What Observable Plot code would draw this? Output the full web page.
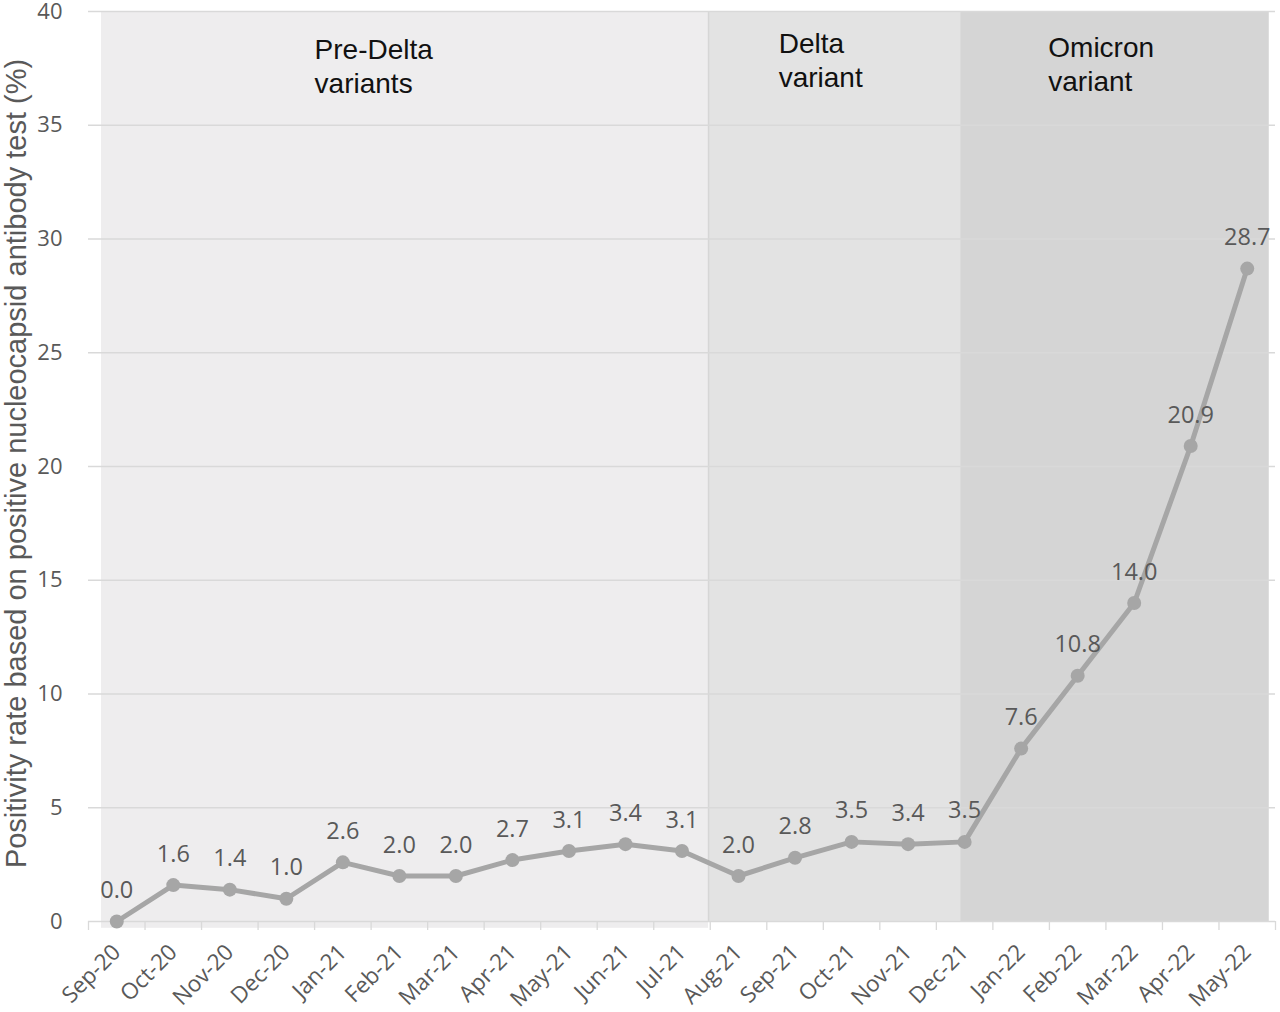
<!DOCTYPE html>
<html>
<head>
<meta charset="utf-8">
<script src="https://cdn.jsdelivr.net/npm/d3@7"></script>
<script src="https://cdn.jsdelivr.net/npm/@observablehq/plot@0.6"></script>
<style>
  html, body { margin: 0; padding: 0; background: #ffffff; }
  #chart { width: 1280px; height: 1012px; }
</style>
</head>
<body>
<div id="chart"></div>
<script>
// ---- data ----
const months = ["Sep-20","Oct-20","Nov-20","Dec-20","Jan-21","Feb-21","Mar-21","Apr-21","May-21","Jun-21","Jul-21",
                "Aug-21","Sep-21","Oct-21","Nov-21","Dec-21","Jan-22","Feb-22","Mar-22","Apr-22","May-22"];
const positivity = [0.0,1.6,1.4,1.0,2.6,2.0,2.0,2.7,3.1,3.4,3.1,2.0,2.8,3.5,3.4,3.5,7.6,10.8,14.0,20.9,28.7];
const yTicks = [0,5,10,15,20,25,30,35,40];
const yTitle = "Positivity rate based on positive nucleocapsid antibody test (%)";

// variant periods, in month-index units
const variantNames = ["Pre-Delta\nvariants","Delta\nvariant","Omicron\nvariant"];
const variantStart = [-0.27, 10.47, 14.93];
const variantEnd = [10.47, 14.93, 20.39];
const variantBottom = [-0.3, 0, 0];
const variantFill = ["#eeedee","#e3e3e3","#d5d5d5"];
const variantLabelX = [3.50, 11.71, 16.48];
const variantLabelY = [39.0, 39.25, 39.08];

// ---- tables ----
const points = months.map((m, i) => ({i, month: m, value: positivity[i]}));
const variants = variantNames.map((name, k) => ({
  name, x1: variantStart[k], x2: variantEnd[k], y1: variantBottom[k], fill: variantFill[k],
  lx: variantLabelX[k], ly: variantLabelY[k]
}));
const monthIdx = d3.range(months.length);
const boundaries = d3.range(months.length + 1).map(k => k - 0.5);

const grey = "#595959";
const calib = "'Open Sans', Lato, sans-serif";
const arial = "'Liberation Sans', Arial, sans-serif";

const chart = Plot.plot({
  width: 1280,
  height: 1012,
  marginLeft: 88,
  marginRight: 5,
  marginTop: 11,
  marginBottom: 91,
  style: {background: "#ffffff", fontFamily: calib, overflow: "visible"},
  x: {type: "linear", domain: [-0.5, months.length - 0.5]},
  y: {domain: [0, 40]},
  color: {type: "identity"},
  marks: [
    Plot.rect(variants, {x1: "x1", x2: "x2", y1: "y1", y2: 40, fill: "fill"}),
    Plot.ruleX([variantStart[1]], {y1: 0, y2: 40, stroke: "#d6d6d6", strokeWidth: 1.5}),
    Plot.ruleY(yTicks, {stroke: "#d9d9d9", strokeWidth: 1.3}),
    Plot.axisY({ticks: yTicks, tickSize: 0, tickPadding: 26, fontSize: 22, fontFamily: calib, color: grey, label: null}),
    Plot.axisX({ticks: boundaries, tickSize: 9, tickFormat: () => "", stroke: "#d9d9d9", strokeWidth: 1.3, label: null}),
    Plot.axisX({ticks: monthIdx, tickSize: 0, tickPadding: 27, tickRotate: -45, tickFormat: i => months[i],
                fontSize: 22.5, fontFamily: calib, color: grey, label: null}),
    Plot.text([yTitle], {frameAnchor: "left", text: d => d, rotate: -90, dx: -72, dy: -3,
                         textAnchor: "middle", lineAnchor: "middle",
                         fontSize: 29, fontFamily: arial, fill: grey}),
    Plot.text(variants, {x: "lx", y: "ly", text: "name", textAnchor: "start", lineAnchor: "top",
                         fontSize: 28, lineHeight: 1.22, fontFamily: arial, fill: "#111111"}),
    Plot.line(points, {x: "i", y: "value", stroke: "#a6a6a6", strokeWidth: 5}),
    Plot.dot(points, {x: "i", y: "value", r: 7, fill: "#a6a6a6", stroke: "none"}),
    Plot.text(points, {x: "i", y: "value", text: d => d.value.toFixed(1), dy: -31,
                       fontSize: 23.5, fontFamily: calib, fill: grey})
  ]
});
document.getElementById("chart").appendChild(chart);
</script>
</body>
</html>
